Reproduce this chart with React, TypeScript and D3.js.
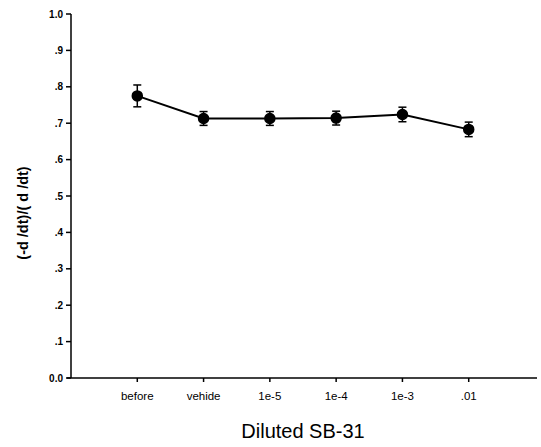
import React from "react";
import * as d3 from "d3";

const categories = ["before", "vehicle", "1e-5", "1e-4", "1e-3", ".01"];
const tickLabels = ["before", "vehide", "1e-5", "1e-4", "1e-3", ".01"];
const values = [0.775, 0.713, 0.713, 0.714, 0.724, 0.683];
const errors = [0.03, 0.019, 0.019, 0.019, 0.02, 0.02];
const yTicks = [0, 0.1, 0.2, 0.3, 0.4, 0.5, 0.6, 0.7, 0.8, 0.9, 1.0];
const yTickLabels = ["0.0", ".1", ".2", ".3", ".4", ".5", ".6", ".7", ".8", ".9", "1.0"];

export default function App() {
  const W = 541, H = 447;
  const left = 71, right = 535, top = 14, bottom = 378;
  const x = d3.scaleLinear().domain([0, 7]).range([left, right]);
  const y = d3.scaleLinear().domain([0, 1]).range([bottom, top]);
  const line = d3.line<number>().x((_, i) => x(i + 1)).y((d) => y(d));
  const font = "Arial, 'Liberation Sans', sans-serif";
  return (
    <svg width={W} height={H} style={{ position: "absolute", left: 0, top: 0, background: "#fff" }}>
      <g stroke="#000" strokeWidth={1.5} fill="none">
        <line x1={left} x2={left} y1={top} y2={bottom} />
        <line x1={left - 4} x2={right + 2} y1={bottom} y2={bottom} />
        {yTicks.map((t) => (
          <line key={t} x1={left - 5} x2={left} y1={y(t)} y2={y(t)} />
        ))}
        {categories.map((c, i) => (
          <line key={c} x1={x(i + 1)} x2={x(i + 1)} y1={bottom} y2={bottom + 4} />
        ))}
      </g>
      {yTicks.map((t, i) => (
        <text key={t} x={left - 8} y={y(t)} dy="0.35em" textAnchor="end" fontFamily={font} fontSize={10} fontWeight="bold" fill="#000">
          {yTickLabels[i]}
        </text>
      ))}
      {tickLabels.map((c, i) => (
        <text key={c} x={x(i + 1)} y={bottom + 22} textAnchor="middle" fontFamily={font} fontSize={11.5} fill="#000">
          {c}
        </text>
      ))}
      <text x={(left + right) / 2} y={438} textAnchor="middle" fontFamily={font} fontSize={20} fill="#000">
        Diluted SB-31
      </text>
      <text transform={`translate(28, 213) rotate(-90)`} textAnchor="middle" fontFamily={font} fontSize={14.5} fontWeight="bold" fill="#000">
        (-d /dt)/( d /dt)
      </text>
      <path d={line(values) || ""} fill="none" stroke="#000" strokeWidth={2} />
      {values.map((v, i) => {
        const cx = x(i + 1);
        return (
          <g key={i} stroke="#000" strokeWidth={1.5}>
            <line x1={cx} x2={cx} y1={y(v + errors[i])} y2={y(v - errors[i])} />
            <line x1={cx - 4} x2={cx + 4} y1={y(v + errors[i])} y2={y(v + errors[i])} />
            <line x1={cx - 4} x2={cx + 4} y1={y(v - errors[i])} y2={y(v - errors[i])} />
            <circle cx={cx} cy={y(v)} r={5} fill="#000" />
          </g>
        );
      })}
    </svg>
  );
}
